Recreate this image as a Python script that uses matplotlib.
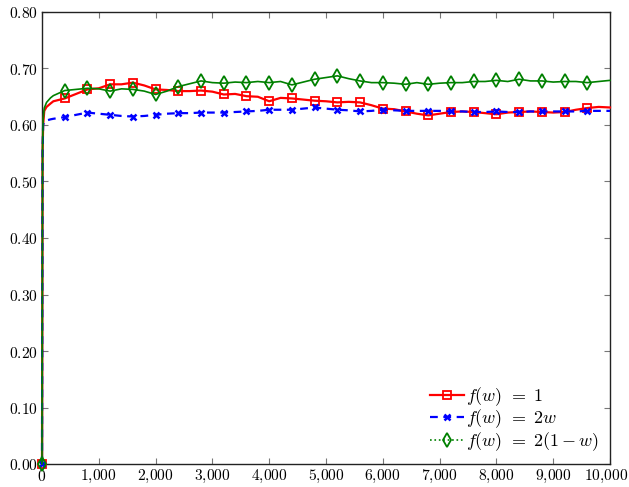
import matplotlib
matplotlib.use("Agg")
import matplotlib.pyplot as plt
from matplotlib.lines import Line2D
from matplotlib.ticker import FuncFormatter, MultipleLocator
import numpy as np

plt.rcParams['mathtext.fontset'] = 'cm'
plt.rcParams['font.family'] = ['DejaVu Serif']

# steps (x) and the three series
x_early = [0, 10, 20, 40, 80, 150]
x_main = list(range(200, 10001, 200))
x = x_early + x_main

red_early = [0.0, 0.55, 0.60, 0.625, 0.632, 0.638]
red_main = [0.642, 0.647, 0.655, 0.663, 0.665, 0.672, 0.672, 0.675, 0.670, 0.663,
            0.662, 0.660, 0.660, 0.661, 0.659, 0.654, 0.655, 0.651, 0.650, 0.642,
            0.648, 0.647, 0.645, 0.643, 0.642, 0.640, 0.641, 0.640, 0.635, 0.629,
            0.628, 0.624, 0.620, 0.617, 0.620, 0.623, 0.624, 0.623, 0.621, 0.619,
            0.622, 0.623, 0.624, 0.623, 0.622, 0.623, 0.627, 0.630, 0.632, 0.631]
red = red_early + red_main

blue_early = [0.0, 0.55, 0.60, 0.606, 0.608, 0.610]
blue_main = [0.611, 0.614, 0.618, 0.622, 0.620, 0.618, 0.616, 0.615, 0.616, 0.618,
             0.620, 0.621, 0.621, 0.622, 0.622, 0.622, 0.623, 0.624, 0.625, 0.627,
             0.627, 0.627, 0.629, 0.631, 0.629, 0.627, 0.626, 0.624, 0.625, 0.627,
             0.626, 0.625, 0.625, 0.625, 0.625, 0.624, 0.624, 0.623, 0.623, 0.624,
             0.623, 0.623, 0.624, 0.624, 0.624, 0.624, 0.624, 0.625, 0.625, 0.625]
blue = blue_early + blue_main

green_early = [0.0, 0.56, 0.61, 0.630, 0.640, 0.648]
green_main = [0.652, 0.661, 0.663, 0.665, 0.664, 0.660, 0.664, 0.663, 0.660, 0.654,
              0.660, 0.668, 0.673, 0.678, 0.675, 0.674, 0.676, 0.675, 0.677, 0.675,
              0.677, 0.671, 0.676, 0.681, 0.684, 0.687, 0.682, 0.678, 0.675, 0.675,
              0.674, 0.672, 0.675, 0.672, 0.674, 0.675, 0.675, 0.677, 0.677, 0.679,
              0.677, 0.681, 0.678, 0.678, 0.676, 0.677, 0.677, 0.675, 0.677, 0.679]
green = green_early + green_main

labels = [r'$f(w)\;\,=\;1$', r'$f(w)\;\,=\;2w$', r'$f(w)\;\,=\;2(1-w)$']
x_max = 10000

x = np.array(x)
mark_idx = [i for i, v in enumerate(x) if v % 400 == 0 and v < x_max]

fig = plt.figure(figsize=(6.29, 4.87), dpi=100)
ax = fig.add_axes([42/629, 1-464/487, 568/629, 452/487])

ax.plot(x, red, color='red', lw=1.6, marker='s', ms=5.5, mfc='none', mec='red',
        mew=1.3, markevery=mark_idx, clip_on=False, zorder=3)
ax.plot(x, blue, color='blue', lw=1.6, ls=(0, (3.5, 2.5)), marker='x', ms=4.5,
        mec='blue', mew=1.8, markevery=mark_idx, clip_on=False, zorder=3)
ax.plot(x, green, color='green', lw=1.2, marker='d', ms=7.5, mfc='none', mec='green',
        mew=1.3, markevery=mark_idx, clip_on=False, zorder=3)

ax.set_xlim(0, x_max)
ax.set_ylim(0, 0.8)
ax.xaxis.set_major_locator(MultipleLocator(1000))
ax.yaxis.set_major_locator(MultipleLocator(0.1))

def xlabel_text(v):
    s = f"{int(round(v)):,}".replace(",", "{,}")
    return f"${s}$"

def fx(v, p):
    if round(v) >= x_max:
        return ""
    return xlabel_text(v)

def fy(v, p):
    return f"${v:.2f}$"

LS = 11.2
ax.xaxis.set_major_formatter(FuncFormatter(fx))
ax.yaxis.set_major_formatter(FuncFormatter(fy))
ax.tick_params(direction='in', length=4, width=0.8, color='#777777',
               top=True, right=True, labelsize=LS, pad=3)
for s in ax.spines.values():
    s.set_linewidth(1.0)
    s.set_color('#222222')

# last x tick label, nudged left so it stays inside the figure
ax.annotate(xlabel_text(x_max), xy=(x_max, 0), xycoords=('data', 'axes fraction'),
            xytext=(-3, -3), textcoords='offset points', ha='center', va='top',
            fontsize=LS, annotation_clip=False)

handles = [
    Line2D([], [], color='red', lw=1.6, marker='s', ms=5.5, mfc='none', mec='red', mew=1.3),
    Line2D([], [], color='blue', lw=1.6, ls=(0, (3.5, 2.5)), marker='x', ms=4.5, mec='blue', mew=1.8),
    Line2D([], [], color='green', lw=1.2, ls=':', marker='d', ms=7.5, mfc='none', mec='green', mew=1.3),
]
ax.legend(handles, labels, loc='lower right', frameon=False, fontsize=13,
          handlelength=1.9, handletextpad=0.1, labelspacing=0.0,
          borderaxespad=0.2)

fig.savefig('out.png', dpi=100)
